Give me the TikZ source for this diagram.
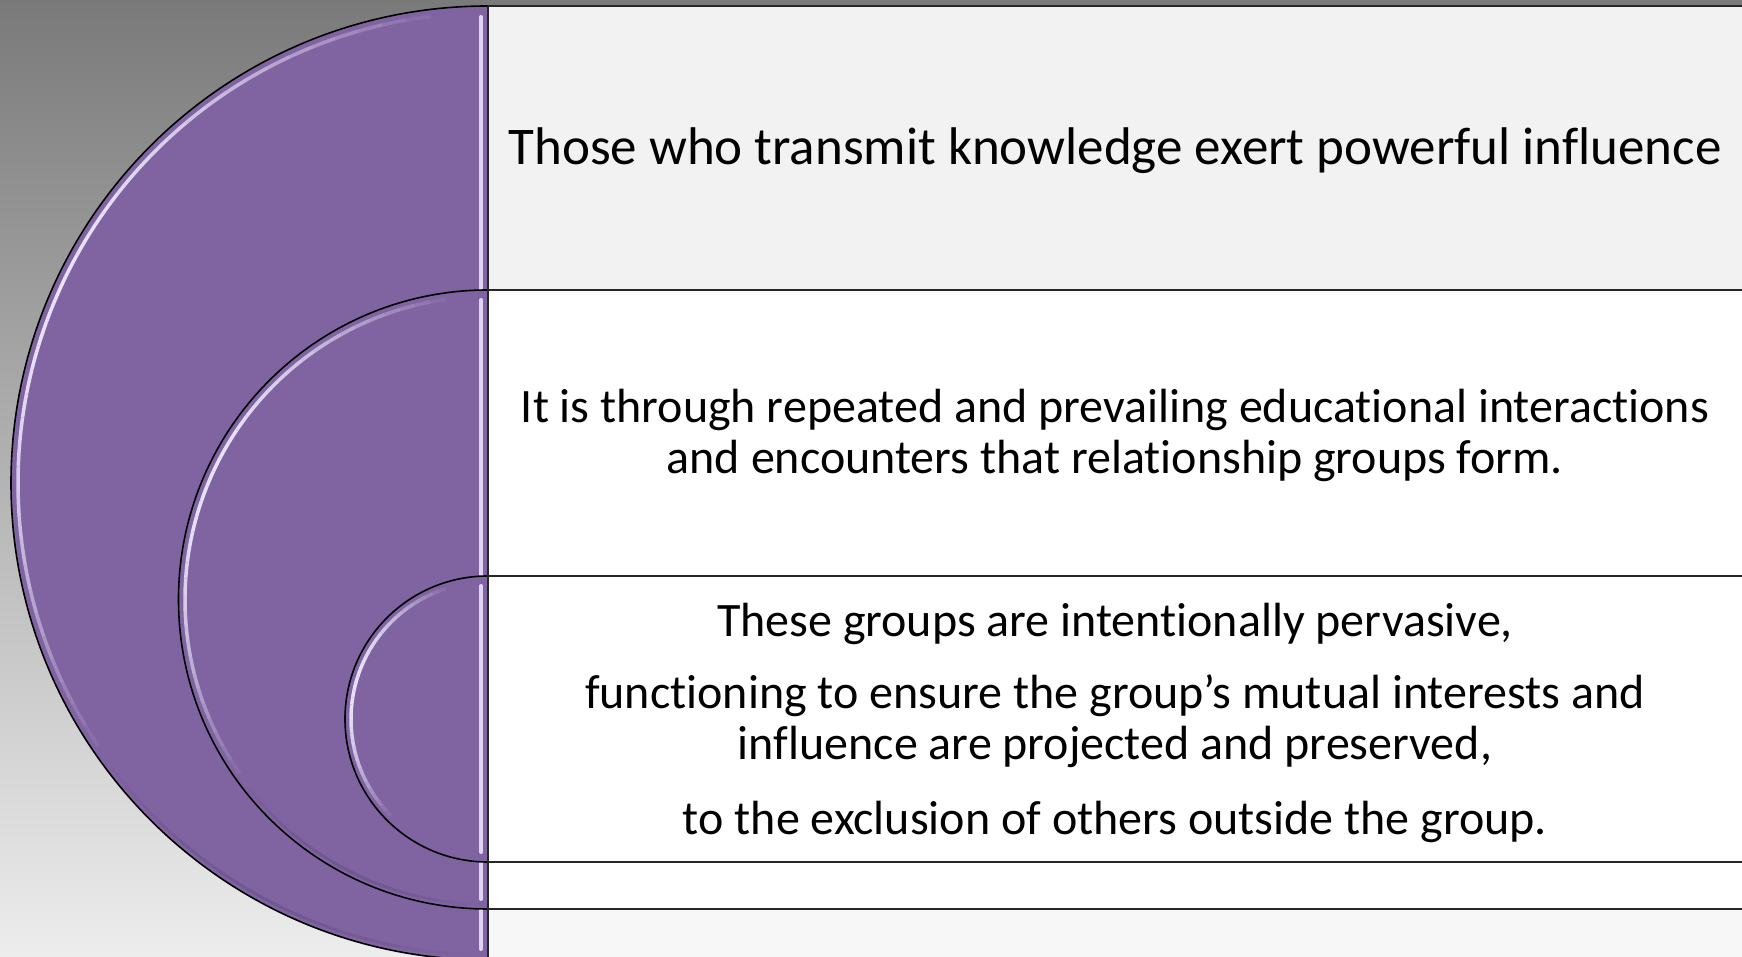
\documentclass[tikz,border=0pt]{standalone}
\usepackage{fontspec}
\setmainfont{Carlito}[Ligatures=NoCommon]
\definecolor{bgtop}{HTML}{7A7A7A}
\definecolor{bgbot}{HTML}{EDEDED}
\definecolor{purp}{HTML}{8064A2}
\definecolor{hl}{HTML}{F0E8FF}
\definecolor{shd}{HTML}{5E4A7A}
\definecolor{rowgrey}{HTML}{F2F2F2}
\definecolor{rowlight}{HTML}{F7F7F7}
\begin{document}
\begin{tikzpicture}[x=1pt,y=1pt,
  shapefill/.style={fill=purp, draw=black, line width=1.6pt},
  tableline/.style={draw=black!85, line width=2pt},
  stripe/.style={draw=hl, line width=4pt, line cap=round, opacity=0.85},
  hlseg/.style={draw=hl, line width=3.5pt},
  shseg/.style={draw=shd, line width=3pt},
  celltext/.style={align=center, text=black, inner sep=0pt}]
\useasboundingbox (0,0) rectangle (1742,957);
\shade[top color=bgtop, bottom color=bgbot] (0,0) rectangle (1742,957);
% table rows
\fill[rowgrey] (488,667) rectangle (1742,951);
\fill[white] (488,381) rectangle (1742,667);
\fill[white] (488,95) rectangle (1742,381);
\fill[white] (488,48) rectangle (1742,95);
\fill[rowlight] (488,0) rectangle (1742,48);
% big semicircle
\draw[shapefill] (488,951) arc[start angle=90,end angle=270,radius=477] -- cycle;
\foreach \a in {94,97,...,211}{
  \pgfmathsetmacro{\op}{0.95*sin((\a-94)*1.5)}
  \draw[hlseg, opacity=\op] ([shift={(\a:470)}]488,474) arc[start angle=\a,end angle=\a+3,radius=470];
}
\foreach \a in {214,217,...,265}{
  \pgfmathsetmacro{\op}{0.45*sin((\a-214)*3.4)}
  \draw[shseg, opacity=\op] ([shift={(\a:472)}]488,474) arc[start angle=\a,end angle=\a+3,radius=472];
}
\draw[stripe] (481,940) -- (481,8);
% middle semicircle
\draw[shapefill] (488,667) arc[start angle=90,end angle=270,radius=309.5] -- cycle;
\foreach \a in {95,98,...,212}{
  \pgfmathsetmacro{\op}{0.95*sin((\a-95)*1.5)}
  \draw[hlseg, opacity=\op] ([shift={(\a:303)}]488,357.5) arc[start angle=\a,end angle=\a+3,radius=303];
}
\foreach \a in {215,218,...,266}{
  \pgfmathsetmacro{\op}{0.45*sin((\a-215)*3.4)}
  \draw[shseg, opacity=\op] ([shift={(\a:305)}]488,357.5) arc[start angle=\a,end angle=\a+3,radius=305];
}
\draw[stripe] (481,657) -- (481,58);
% small semicircle
\draw[shapefill] (488,381) arc[start angle=90,end angle=270,radius=143] -- cycle;
\foreach \a in {105,108,...,222}{
  \pgfmathsetmacro{\op}{0.95*sin((\a-105)*1.5)}
  \draw[hlseg, opacity=\op] ([shift={(\a:137)}]488,238) arc[start angle=\a,end angle=\a+3,radius=137];
}
\draw[stripe] (481,371) -- (481,105);
% table lines
\draw[tableline] (488,951) -- (1742,951);
\draw[tableline] (488,667) -- (1742,667);
\draw[tableline] (488,381) -- (1742,381);
\draw[tableline] (488,95) -- (1742,95);
\draw[tableline] (488,48) -- (1742,48);
\draw[tableline] (488,951) -- (488,0);
% texts
\node[celltext, font=\fontsize{53}{60}\selectfont] (t1) at (1115,806) {Those who transmit knowledge exert powerful influence};
\node[celltext, font=\fontsize{48}{51}\selectfont] (t2) at (1115,522) {It is through repeated and prevailing educational interactions\\ and encounters that relationship groups form.};
\node[celltext, font=\fontsize{48}{51}\selectfont] (t3) at (1115,234) {These groups are intentionally pervasive,\\[21pt] functioning to ensure the group’s mutual interests and\\ influence are projected and preserved,\\[24pt] to the exclusion of others outside the group.};
\end{tikzpicture}
\end{document}
